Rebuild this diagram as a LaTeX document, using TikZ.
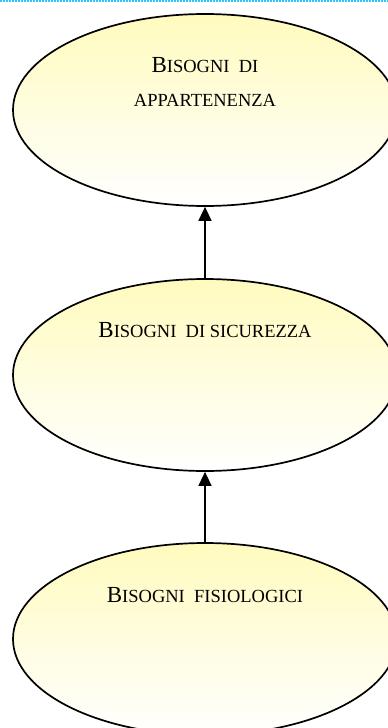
\documentclass[tikz,border=0pt]{standalone}
\usepackage{fontspec}
\setmainfont{Liberation Serif}
\usetikzlibrary{shapes.geometric,arrows.meta}
\definecolor{dotcyan}{RGB}{40,200,255}
\definecolor{paleyellow}{RGB}{255,251,190}
\newcommand\fakesc[2]{{\fontsize{23}{28}\selectfont #1}{\fontsize{18.5}{22}\selectfont #2}}
\tikzset{
  need/.style={ellipse, draw=black, line width=1.7pt, minimum width=384pt, minimum height=192pt, inner sep=0pt, top color=paleyellow, bottom color=white},
  lbl/.style={anchor=base, inner sep=0pt, text=black},
  uparrow/.style={line width=1.4pt, -{Triangle[width=13pt,length=14pt]}}
}
\begin{document}
\begin{tikzpicture}[x=1pt,y=-1pt]
\useasboundingbox (0,0) rectangle (388,728);
\clip (0,0) rectangle (388,728);
\fill[white] (0,0) rectangle (388,728);
\coordinate (topl) at (0,1);
\coordinate (topr) at (388,1);
\draw[dotcyan, line width=1.6pt, dash pattern=on 2pt off 1pt] (topl) -- (topr);

\node[need] (e1) at (205,110) {};
\node[need] (e2) at (205,375) {};
\node[need] (e3) at (205,639) {};

\node[lbl] (t1a) at (205,72) {\fakesc{B}{ISOGNI\ \ DI}};
\node[lbl] (t1b) at (205,106) {\fakesc{}{APPARTENENZA}};
\node[lbl] (t2) at (205,337) {\fakesc{B}{ISOGNI\ \ DI SICUREZZA}};
\node[lbl] (t3) at (205,602) {\fakesc{B}{ISOGNI\ \ FISIOLOGICI}};

\draw[uparrow] (e2.north) -- (e1.south);
\draw[uparrow] (e3.north) -- (e2.south);
\end{tikzpicture}
\end{document}
